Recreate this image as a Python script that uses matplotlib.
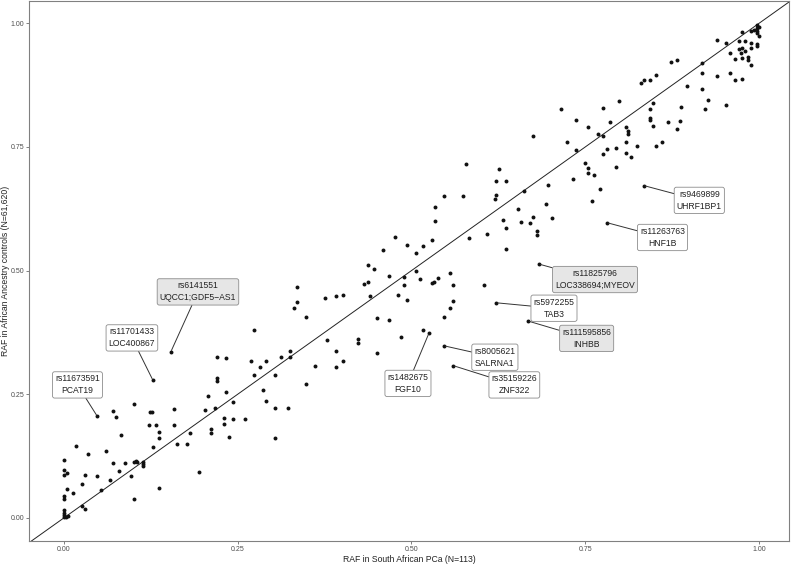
import matplotlib
matplotlib.use("Agg")
import matplotlib.pyplot as plt

plt.rcParams['font.family'] = ['Liberation Sans', 'DejaVu Sans']

# risk allele frequencies: South African PCa cases (x) vs African ancestry controls (y)
raf_cases = [
    0.000, 0.000, 0.000, 0.004, 0.004, 0.013, 0.000, 0.000, 0.000, 0.000,
    0.001, 0.003, 0.006, 0.000, 0.017, 0.026, 0.031, 0.035, 0.026, 0.031,
    0.048, 0.053, 0.061, 0.066, 0.071, 0.071, 0.075, 0.079, 0.083, 0.088,
    0.097, 0.101, 0.101, 0.101, 0.104, 0.106, 0.114, 0.114, 0.114, 0.124,
    0.127, 0.123, 0.128, 0.132, 0.137, 0.137, 0.137, 0.158, 0.158, 0.163,
    0.177, 0.181, 0.194, 0.203, 0.207, 0.212, 0.212, 0.218, 0.221, 0.221,
    0.221, 0.234, 0.230, 0.230, 0.234, 0.238, 0.243, 0.243, 0.260, 0.269,
    0.274, 0.273, 0.282, 0.287, 0.291, 0.291, 0.304, 0.304, 0.304, 0.313,
    0.322, 0.326, 0.326, 0.331, 0.335, 0.335, 0.348, 0.349, 0.362, 0.375,
    0.379, 0.392, 0.392, 0.392, 0.401, 0.401, 0.423, 0.423, 0.432, 0.437,
    0.437, 0.441, 0.446, 0.450, 0.450, 0.459, 0.468, 0.468, 0.476, 0.481,
    0.485, 0.490, 0.490, 0.494, 0.494, 0.507, 0.507, 0.512, 0.516, 0.516,
    0.529, 0.530, 0.533, 0.534, 0.534, 0.538, 0.547, 0.547, 0.556, 0.556,
    0.560, 0.560, 0.574, 0.578, 0.583, 0.604, 0.609, 0.620, 0.622, 0.622,
    0.626, 0.631, 0.636, 0.636, 0.636, 0.653, 0.658, 0.662, 0.671, 0.675,
    0.675, 0.680, 0.680, 0.693, 0.697, 0.702, 0.715, 0.724, 0.732, 0.737,
    0.737, 0.750, 0.754, 0.754, 0.754, 0.759, 0.763, 0.768, 0.771, 0.776,
    0.776, 0.776, 0.781, 0.785, 0.794, 0.794, 0.799, 0.808, 0.811, 0.812,
    0.808, 0.808, 0.816, 0.825, 0.830, 0.835, 0.843, 0.847, 0.843, 0.843,
    0.843, 0.847, 0.852, 0.852, 0.860, 0.869, 0.874, 0.882, 0.882, 0.886,
    0.887, 0.896, 0.918, 0.918, 0.918, 0.922, 0.927, 0.940, 0.940, 0.953,
    0.953, 0.958, 0.958, 0.966, 0.966, 0.971, 0.980, 0.975, 0.975, 0.971,
    0.976, 0.980, 0.974, 0.975, 0.984, 0.984, 0.988, 0.988, 0.988, 0.988,
    0.992, 0.997, 0.997, 0.997, 0.997, 0.997, 0.997, 1.000, 1.000,
]
raf_controls = [
    0.117, 0.097, 0.087, 0.090, 0.059, 0.050, 0.044, 0.038, 0.016, 0.011,
    0.006, 0.003, 0.005, 0.002, 0.146, 0.069, 0.087, 0.130, 0.024, 0.019,
    0.084, 0.057, 0.136, 0.077, 0.217, 0.111, 0.204, 0.096, 0.168, 0.112,
    0.084, 0.038, 0.230, 0.113, 0.116, 0.114, 0.114, 0.109, 0.105, 0.214,
    0.214, 0.187, 0.144, 0.187, 0.174, 0.162, 0.061, 0.221, 0.188, 0.150,
    0.150, 0.172, 0.092, 0.219, 0.247, 0.179, 0.171, 0.223, 0.282, 0.276,
    0.325, 0.324, 0.202, 0.189, 0.254, 0.164, 0.234, 0.201, 0.201, 0.318,
    0.289, 0.380, 0.305, 0.258, 0.318, 0.236, 0.290, 0.222, 0.161, 0.326,
    0.222, 0.338, 0.326, 0.424, 0.466, 0.437, 0.407, 0.271, 0.307, 0.445,
    0.360, 0.448, 0.338, 0.305, 0.451, 0.317, 0.362, 0.354, 0.472, 0.478,
    0.512, 0.449, 0.504, 0.405, 0.333, 0.541, 0.490, 0.400, 0.567, 0.450,
    0.366, 0.488, 0.470, 0.552, 0.441, 0.535, 0.500, 0.483, 0.550, 0.381,
    0.562, 0.475, 0.477, 0.628, 0.601, 0.485, 0.651, 0.406, 0.495, 0.424,
    0.470, 0.439, 0.650, 0.716, 0.565, 0.470, 0.575, 0.644, 0.653, 0.682,
    0.705, 0.603, 0.681, 0.586, 0.544, 0.625, 0.599, 0.660, 0.597, 0.773,
    0.609, 0.581, 0.572, 0.634, 0.673, 0.607, 0.827, 0.761, 0.686, 0.805,
    0.744, 0.718, 0.790, 0.707, 0.698, 0.641, 0.694, 0.776, 0.664, 0.828,
    0.772, 0.736, 0.746, 0.801, 0.747, 0.709, 0.842, 0.791, 0.783, 0.776,
    0.761, 0.738, 0.730, 0.751, 0.880, 0.885, 0.885, 0.838, 0.826, 0.808,
    0.805, 0.792, 0.896, 0.752, 0.761, 0.801, 0.921, 0.926, 0.787, 0.802,
    0.831, 0.873, 0.919, 0.900, 0.868, 0.827, 0.844, 0.893, 0.966, 0.960,
    0.835, 0.940, 0.900, 0.927, 0.885, 0.964, 0.964, 0.982, 0.887, 0.947,
    0.951, 0.943, 0.940, 0.930, 0.931, 0.925, 0.984, 0.961, 0.951, 0.915,
    0.987, 0.996, 0.990, 0.985, 0.980, 0.958, 0.955, 0.993, 0.975,
]

# labelled SNPs
lab_snp = ['rs11673591', 'rs11701433', 'rs6141551', 'rs1482675', 'rs8005621',
           'rs35159226', 'rs5972255', 'rs111595856', 'rs11825796',
           'rs9469899', 'rs11263763']
lab_gene = ['PCAT19', 'LOC400867', 'UQCC1;GDF5\u2212AS1', 'FGF10', 'SALRNA1',
            'ZNF322', 'TAB3', 'INHBB', 'LOC338694;MYEOV', 'UHRF1BP1', 'HNF1B']
lab_x = [0.048, 0.128, 0.154, 0.525, 0.547, 0.560, 0.622, 0.668, 0.684, 0.834, 0.781]
lab_y = [0.206, 0.279, 0.336, 0.373, 0.348, 0.308, 0.435, 0.398, 0.513, 0.672, 0.597]
lab_grey = [False, False, True, False, False, False, False, True, True, False, False]

# where the label boxes sit (data units)
box_pos = [(0.0197, 0.269), (0.098, 0.364), (0.193, 0.457), (0.495, 0.272),
           (0.620, 0.325), (0.648, 0.269), (0.705, 0.424), (0.752, 0.363),
           (0.764, 0.482), (0.914, 0.642), (0.861, 0.567)]

fig = plt.figure(figsize=(7.92, 5.65), dpi=100)
ax = fig.add_axes([29 / 792, 24 / 565, 760 / 792, 540 / 565])

ax.axline((0, 0), (1, 1), color='#222222', lw=0.7, zorder=1)
ax.scatter(raf_cases + lab_x, raf_controls + lab_y, s=8, color='#111111',
           linewidths=0, zorder=3)

for i in range(len(lab_snp)):
    fc = '#e6e6e6' if lab_grey[i] else 'white'
    ax.annotate(lab_snp[i] + '\n' + lab_gene[i],
                xy=(lab_x[i], lab_y[i]), xytext=box_pos[i],
                ha='center', va='center', multialignment='center',
                fontsize=6.2, color='#222222', linespacing=1.45,
                bbox=dict(boxstyle='round,pad=0.3,rounding_size=0.25',
                          fc=fc, ec='#8c8c8c', lw=0.6),
                arrowprops=dict(arrowstyle='-', color='#333333', lw=0.7,
                                shrinkA=0, shrinkB=1),
                zorder=4)

ax.set_xlim(-0.05, 1.043)
ax.set_ylim(-0.0465, 1.045)
ticks = [0.0, 0.25, 0.5, 0.75, 1.0]
ax.set_xticks(ticks)
ax.set_yticks(ticks)
ax.set_xticklabels(['0.00', '0.25', '0.50', '0.75', '1.00'])
ax.set_yticklabels(['0.00', '0.25', '0.50', '0.75', '1.00'])
ax.tick_params(labelsize=5, colors='#4d4d4d', length=2, width=0.5, pad=1.5)
for sp in ax.spines.values():
    sp.set_color('#808080')
    sp.set_linewidth(0.8)

ax.set_xlabel('RAF in South African PCa (N=113)', fontsize=6.2, color='#222222')
ax.set_ylabel('RAF in African Ancestry controls (N=61,620)', fontsize=6.2,
              color='#222222')
ax.xaxis.set_label_coords(0.5, -0.026)
ax.yaxis.set_label_coords(-0.0245, 0.5)

fig.savefig('out.png', dpi=100)
